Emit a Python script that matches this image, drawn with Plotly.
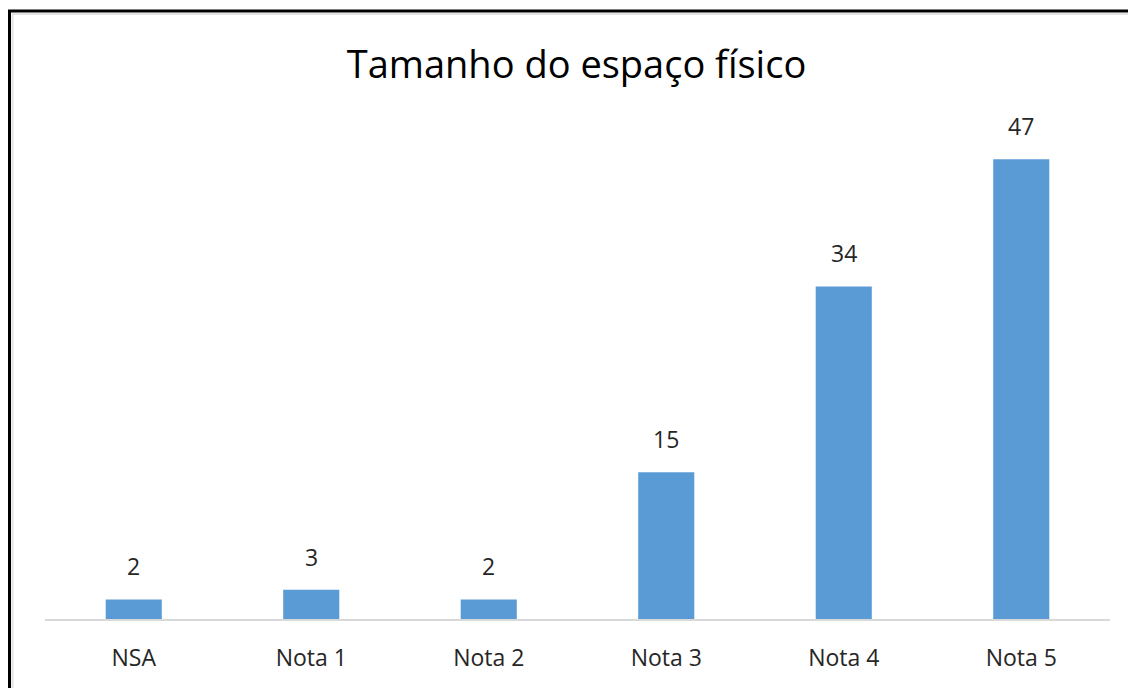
import plotly.graph_objects as go

categories = ["NSA", "Nota 1", "Nota 2", "Nota 3", "Nota 4", "Nota 5"]
values = [2, 3, 2, 15, 34, 47]
title_text = "Tamanho do espaço físico"

W, H = 1136, 688
OFF = 8  # page body offset
ml, mr, mt, mb = 45 - OFF, 26 + OFF, 130 - OFF, 69 + OFF
pw, ph = W - ml - mr, H - mt - mb

def px_x(p):
    return (p - OFF - ml) / pw

def px_y(p):
    return (H - mb - (p - OFF)) / ph

fig = go.Figure(go.Bar(
    x=categories, y=values,
    marker=dict(color="#5b9bd5", line=dict(width=0)),
    cliponaxis=False,
))

for c, v in zip(categories, values):
    fig.add_annotation(x=c, y=v, text=str(v), showarrow=False,
                       yanchor="bottom", yshift=15,
                       font=dict(family="Open Sans", size=23, color="#262626"))

fig.update_layout(
    width=W, height=H,
    margin=dict(l=ml, r=mr, t=mt, b=mb),
    paper_bgcolor="white", plot_bgcolor="white",
    bargap=0.684,
    showlegend=False,
    title=dict(text=title_text, x=(576.5 - OFF) / W, xanchor="center", y=1 - (65 - OFF) / H, yanchor="middle",
               font=dict(family="Open Sans", size=38, color="#000000")),
    xaxis=dict(showline=True, linecolor="#d9d9d9", linewidth=2, showgrid=False,
               ticks="", ticklabelstandoff=17,
               tickfont=dict(family="Open Sans", size=23, color="#262626")),
    yaxis=dict(range=[0, 50], visible=False, showgrid=False, zeroline=False),
    shapes=[
        dict(type="rect", xref="paper", yref="paper",
             x0=px_x(12.5), x1=px_x(1150), y0=px_y(14), y1=px_y(710),
             line=dict(color="#e3e3e3", width=2), layer="above"),
        dict(type="rect", xref="paper", yref="paper",
             x0=px_x(9.5), x1=px_x(1150), y0=px_y(11), y1=px_y(710),
             line=dict(color="black", width=3), layer="above"),
    ],
)

fig.write_html("out.html")
